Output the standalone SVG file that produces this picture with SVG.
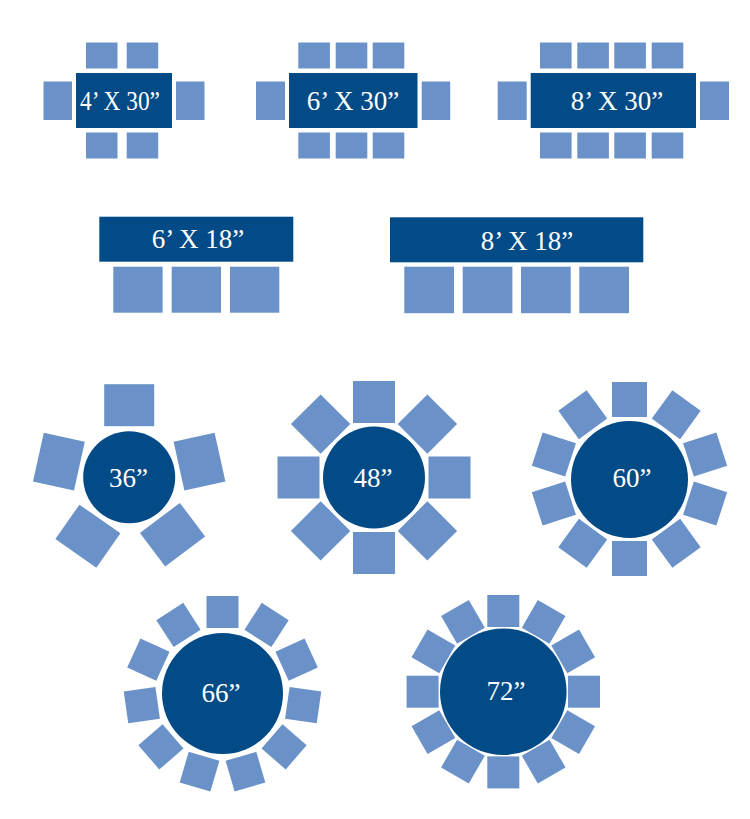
<svg xmlns="http://www.w3.org/2000/svg" width="750" height="819" viewBox="0 0 750 819">
<style>
.chair{fill:#6a92c9}
.table{fill:#024b87}
.label{fill:#ffffff;font-family:"Liberation Serif","Times New Roman",serif;font-size:27px;text-anchor:middle}
</style>
<rect width="750" height="819" fill="#ffffff"/>
<g id="connectors"/>
<g id="table-4x30">
<rect class="chair" x="86" y="42.5" width="31.5" height="26"/>
<rect class="chair" x="126.7" y="42.5" width="31.5" height="26"/>
<rect class="chair" x="86" y="132.5" width="31.5" height="26"/>
<rect class="chair" x="126.7" y="132.5" width="31.5" height="26"/>
<rect class="chair" x="43.5" y="81.5" width="28.5" height="38.5"/>
<rect class="chair" x="176" y="81.5" width="28.5" height="38.5"/>
<rect class="table" x="76" y="73" width="96" height="55"/>
<text class="label" x="120" y="110" textLength="80" lengthAdjust="spacingAndGlyphs">4’ X 30”</text>
</g>
<g id="table-6x30">
<rect class="chair" x="298.3" y="42.5" width="31.6" height="26"/>
<rect class="chair" x="335.7" y="42.5" width="31.6" height="26"/>
<rect class="chair" x="372.7" y="42.5" width="31.6" height="26"/>
<rect class="chair" x="298.3" y="132.5" width="31.6" height="26"/>
<rect class="chair" x="335.7" y="132.5" width="31.6" height="26"/>
<rect class="chair" x="372.7" y="132.5" width="31.6" height="26"/>
<rect class="chair" x="256" y="81.5" width="29" height="38.5"/>
<rect class="chair" x="421.7" y="81.5" width="28.5" height="38.5"/>
<rect class="table" x="289" y="73" width="128.5" height="55"/>
<text class="label" x="353" y="110">6’ X 30”</text>
</g>
<g id="table-8x30">
<rect class="chair" x="540" y="42.5" width="31.6" height="26"/>
<rect class="chair" x="577.3" y="42.5" width="31.6" height="26"/>
<rect class="chair" x="614.3" y="42.5" width="31.6" height="26"/>
<rect class="chair" x="651.7" y="42.5" width="31.6" height="26"/>
<rect class="chair" x="540" y="132.5" width="31.6" height="26"/>
<rect class="chair" x="577.3" y="132.5" width="31.6" height="26"/>
<rect class="chair" x="614.3" y="132.5" width="31.6" height="26"/>
<rect class="chair" x="651.7" y="132.5" width="31.6" height="26"/>
<rect class="chair" x="497.7" y="81.5" width="29" height="38.5"/>
<rect class="chair" x="700" y="81.5" width="29" height="38.5"/>
<rect class="table" x="530.7" y="73" width="165.3" height="55"/>
<text class="label" x="617" y="110">8’ X 30”</text>
</g>
<g id="table-6x18">
<rect class="table" x="99.3" y="216.7" width="194" height="45"/>
<rect class="chair" x="113.3" y="266.7" width="49.3" height="46"/>
<rect class="chair" x="171.7" y="266.7" width="49.3" height="46"/>
<rect class="chair" x="230" y="266.7" width="49.3" height="46"/>
<text class="label" x="198" y="248.3">6’ X 18”</text>
</g>
<g id="table-8x18">
<rect class="table" x="390" y="217.3" width="253.3" height="45"/>
<rect class="chair" x="404.3" y="266.7" width="49.7" height="46.5"/>
<rect class="chair" x="462.7" y="266.7" width="49.7" height="46.5"/>
<rect class="chair" x="521" y="266.7" width="49.7" height="46.5"/>
<rect class="chair" x="579.3" y="266.7" width="49.7" height="46.5"/>
<text class="label" x="527" y="249.5">8’ X 18”</text>
</g>
<g id="table-36">
<rect class="chair" x="104.2" y="384.2" width="50" height="42"/>
<rect class="chair" x="104.2" y="384.2" width="50" height="42" transform="rotate(77.5 129.2 477.2)"/>
<rect class="chair" x="104.2" y="384.2" width="50" height="42" transform="rotate(143 129.2 477.2)"/>
<rect class="chair" x="104.2" y="384.2" width="50" height="42" transform="rotate(215 129.2 477.2)"/>
<rect class="chair" x="104.2" y="384.2" width="50" height="42" transform="rotate(282.5 129.2 477.2)"/>
<circle class="table" cx="129.2" cy="477.2" r="46"/>
<text class="label" x="128.5" y="486.7">36”</text>
</g>
<g id="table-48">
<rect class="chair" x="353" y="381" width="42" height="42"/>
<rect class="chair" x="353" y="381" width="42" height="42" transform="rotate(45 374 477.5)"/>
<rect class="chair" x="353" y="381" width="42" height="42" transform="rotate(90 374 477.5)"/>
<rect class="chair" x="353" y="381" width="42" height="42" transform="rotate(135 374 477.5)"/>
<rect class="chair" x="353" y="381" width="42" height="42" transform="rotate(180 374 477.5)"/>
<rect class="chair" x="353" y="381" width="42" height="42" transform="rotate(225 374 477.5)"/>
<rect class="chair" x="353" y="381" width="42" height="42" transform="rotate(270 374 477.5)"/>
<rect class="chair" x="353" y="381" width="42" height="42" transform="rotate(315 374 477.5)"/>
<circle class="table" cx="374" cy="477.5" r="51"/>
<text class="label" x="373" y="487">48”</text>
</g>
<g id="table-60">
<rect class="chair" x="612" y="382" width="35" height="35"/>
<rect class="chair" x="612" y="382" width="35" height="35" transform="rotate(36 629.5 479)"/>
<rect class="chair" x="612" y="382" width="35" height="35" transform="rotate(72 629.5 479)"/>
<rect class="chair" x="612" y="382" width="35" height="35" transform="rotate(108 629.5 479)"/>
<rect class="chair" x="612" y="382" width="35" height="35" transform="rotate(144 629.5 479)"/>
<rect class="chair" x="612" y="382" width="35" height="35" transform="rotate(180 629.5 479)"/>
<rect class="chair" x="612" y="382" width="35" height="35" transform="rotate(216 629.5 479)"/>
<rect class="chair" x="612" y="382" width="35" height="35" transform="rotate(252 629.5 479)"/>
<rect class="chair" x="612" y="382" width="35" height="35" transform="rotate(288 629.5 479)"/>
<rect class="chair" x="612" y="382" width="35" height="35" transform="rotate(324 629.5 479)"/>
<circle class="table" cx="629.5" cy="479.5" r="58.5"/>
<text class="label" x="632" y="486.7">60”</text>
</g>
<g id="table-66">
<rect class="chair" x="206.5" y="596" width="32" height="32"/>
<rect class="chair" x="206.5" y="596" width="32" height="32" transform="rotate(32.727 222.5 693.5)"/>
<rect class="chair" x="206.5" y="596" width="32" height="32" transform="rotate(65.455 222.5 693.5)"/>
<rect class="chair" x="206.5" y="596" width="32" height="32" transform="rotate(98.182 222.5 693.5)"/>
<rect class="chair" x="206.5" y="596" width="32" height="32" transform="rotate(130.909 222.5 693.5)"/>
<rect class="chair" x="206.5" y="596" width="32" height="32" transform="rotate(163.636 222.5 693.5)"/>
<rect class="chair" x="206.5" y="596" width="32" height="32" transform="rotate(196.364 222.5 693.5)"/>
<rect class="chair" x="206.5" y="596" width="32" height="32" transform="rotate(229.091 222.5 693.5)"/>
<rect class="chair" x="206.5" y="596" width="32" height="32" transform="rotate(261.818 222.5 693.5)"/>
<rect class="chair" x="206.5" y="596" width="32" height="32" transform="rotate(294.545 222.5 693.5)"/>
<rect class="chair" x="206.5" y="596" width="32" height="32" transform="rotate(327.273 222.5 693.5)"/>
<circle class="table" cx="222.5" cy="693.5" r="60.5"/>
<text class="label" x="221" y="701.7">66”</text>
</g>
<g id="table-72">
<rect class="chair" x="487.3" y="595" width="32" height="32"/>
<rect class="chair" x="487.3" y="595" width="32" height="32" transform="rotate(30 503.3 691.7)"/>
<rect class="chair" x="487.3" y="595" width="32" height="32" transform="rotate(60 503.3 691.7)"/>
<rect class="chair" x="487.3" y="595" width="32" height="32" transform="rotate(90 503.3 691.7)"/>
<rect class="chair" x="487.3" y="595" width="32" height="32" transform="rotate(120 503.3 691.7)"/>
<rect class="chair" x="487.3" y="595" width="32" height="32" transform="rotate(150 503.3 691.7)"/>
<rect class="chair" x="487.3" y="595" width="32" height="32" transform="rotate(180 503.3 691.7)"/>
<rect class="chair" x="487.3" y="595" width="32" height="32" transform="rotate(210 503.3 691.7)"/>
<rect class="chair" x="487.3" y="595" width="32" height="32" transform="rotate(240 503.3 691.7)"/>
<rect class="chair" x="487.3" y="595" width="32" height="32" transform="rotate(270 503.3 691.7)"/>
<rect class="chair" x="487.3" y="595" width="32" height="32" transform="rotate(300 503.3 691.7)"/>
<rect class="chair" x="487.3" y="595" width="32" height="32" transform="rotate(330 503.3 691.7)"/>
<circle class="table" cx="503.3" cy="691.7" r="63.3"/>
<text class="label" x="506" y="700">72”</text>
</g>
</svg>
